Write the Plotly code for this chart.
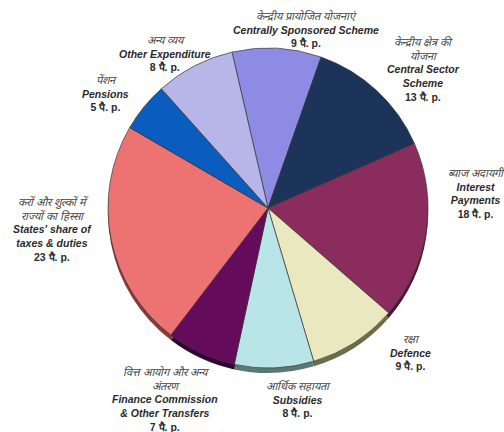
import plotly.graph_objects as go

# ---- data ----
categories_en = [
    "Centrally Sponsored Scheme",
    "Central Sector<br>Scheme",
    "Interest<br>Payments",
    "Defence",
    "Subsidies",
    "Finance Commission<br>& Other Transfers",
    "States' share of<br>taxes & duties",
    "Pensions",
    "Other Expenditure",
]
categories_hi = [
    "केन्द्रीय प्रायोजित योजनाएं",
    "केन्द्रीय क्षेत्र की<br>योजना",
    "ब्याज अदायगी",
    "रक्षा",
    "आर्थिक सहायता",
    "वित्त आयोग और अन्य<br>अंतरण",
    "करों और शुल्कों में<br>राज्यों का हिस्सा",
    "पेंशन",
    "अन्य व्यय",
]
values = [9, 13, 18, 9, 8, 7, 23, 5, 8]
unit = "पै. p."

# ---- styles ----
colors = ["#8E8BE4", "#1C3459", "#8A2D5E", "#EAE8BF", "#B9E5E8",
          "#640B5B", "#EC7372", "#0A5DBF", "#B8B6E8"]
shadow_colors = ["#4a4880", "#0e1a2e", "#4a1532", "#6e6c48", "#5a7876",
                 "#320530", "#8a3a3a", "#05305f", "#5c5b78"]

W, H = 504, 432
cx, cy, r = 268, 208, 160
shadow_dy = 5

def dom(cx, cy, r):
    return dict(x=[(cx - r) / W, (cx + r) / W],
                y=[(H - cy - r) / H, (H - cy + r) / H])

fig = go.Figure()
# 3D-like shadow underneath
fig.add_trace(go.Pie(
    values=values, labels=[str(i) for i in range(len(values))],
    sort=False, direction="clockwise", rotation=-13,
    marker=dict(colors=shadow_colors, line=dict(width=0)),
    textinfo="none", hoverinfo="skip", showlegend=False,
    domain=dom(cx, cy + shadow_dy, r),
))
fig.add_trace(go.Pie(
    values=values, labels=[str(i) for i in range(len(values))],
    sort=False, direction="clockwise", rotation=-13,
    marker=dict(colors=colors, line=dict(color="#3a3a3a", width=0.7)),
    textinfo="none", showlegend=False,
    domain=dom(cx, cy, r),
))

# label anchor positions (pixel coords of text-block centres)
label_pos = [
    (306, 30), (423, 70), (476, 193), (410, 352), (298, 399),
    (165, 399), (52, 229), (105, 93), (165, 53),
]

for en, hi, v, (px, py) in zip(categories_en, categories_hi, values, label_pos):
    txt = (f"<span style='color:#444;font-size:11px'><i>{hi}</i></span><br>"
           f"<b><i>{en}</i></b><br><b>{v} {unit}</b>")
    fig.add_annotation(
        x=px / W, y=1 - py / H, xref="paper", yref="paper",
        text=txt, showarrow=False, xanchor="center", yanchor="middle",
        align="center",
        font=dict(family="Liberation Sans, Arial, sans-serif", size=10.5, color="#2a2a2a"),
    )

fig.update_layout(
    width=W, height=H,
    margin=dict(l=0, r=0, t=0, b=0),
    paper_bgcolor="white", plot_bgcolor="white",
    showlegend=False,
)
fig.write_html("out.html",
               config={"displayModeBar": False},
               post_script="document.body.style.margin='0';document.body.style.overflow='hidden';")
